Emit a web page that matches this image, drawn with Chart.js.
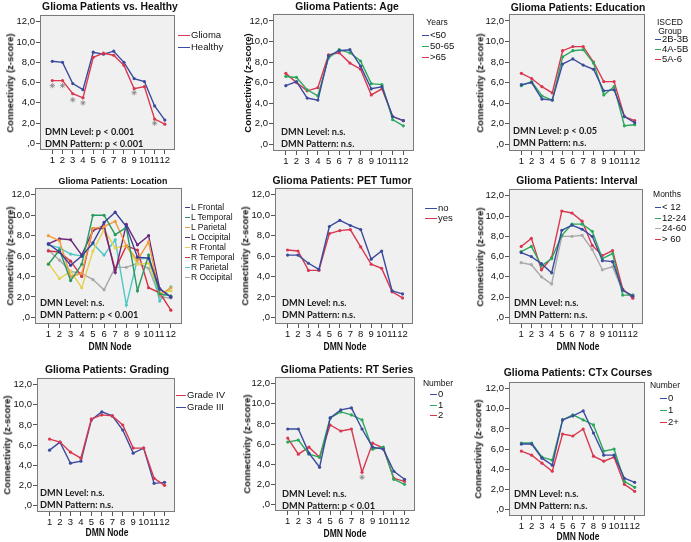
<!DOCTYPE html>
<html>
<head>
<meta charset="utf-8">
<script src="https://cdn.jsdelivr.net/npm/chart.js@4.4.1/dist/chart.umd.min.js"></script>
<style>
  body { margin: 0; background: #fff; }
  #wrap { position: relative; width: 691px; height: 542px; overflow: hidden; font-family: Arial, "Liberation Sans", sans-serif; color: #111; }
  #wrap canvas { position: absolute; }
  .txt { position: absolute; white-space: nowrap; line-height: 1; }
  .leg-line { position: absolute; height: 0; border-top: 1.4px solid; }
</style>
</head>
<body>
<div id="wrap"></div>
<script>
// DMN nodes and y ticks
const nodes = [1, 2, 3, 4, 5, 6, 7, 8, 9, 10, 11, 12];
const yTickValues = [0, 2, 4, 6, 8, 10, 12];
const yTickLabels = [",0", "2,0", "4,0", "6,0", "8,0", "10,0", "12,0"];

// Glioma Patients vs. Healthy
const glioma = [6.2, 6.2, 4.9, 4.5, 8.5, 8.9, 8.7, 7.7, 5.4, 5.6, 2.4, 1.9];
const healthy = [8.1, 8.0, 5.9, 5.3, 9.0, 8.8, 9.1, 8.0, 6.4, 6.1, 3.7, 2.3];
const healthySigNodes = [1, 2, 3, 4, 9, 11];
const healthySigMarks = [5.7, 5.7, 4.3, 4.0, 5.0, 2.0];

// Age
const ageUnder50 = [5.7, 6.1, 4.5, 4.3, 8.6, 9.1, 9.2, 7.6, 5.4, 5.6, 2.7, 2.3];
const age50to65 = [6.6, 6.5, 5.3, 4.7, 8.4, 9.2, 8.9, 8.1, 5.9, 5.8, 2.4, 1.8];
const ageOver65 = [6.9, 6.0, 5.2, 5.5, 8.7, 8.9, 7.9, 7.3, 4.8, 5.4, 2.7, 2.3];

// Education
const edu2B3B = [5.8, 6.0, 4.4, 4.3, 7.8, 8.3, 7.7, 7.3, 5.2, 5.3, 2.7, 2.1];
const edu4A5B = [5.7, 6.1, 4.7, 4.3, 8.5, 9.1, 9.2, 7.9, 4.8, 5.6, 1.8, 1.9];
const edu5A6 = [6.9, 6.4, 5.6, 5.0, 9.1, 9.5, 9.5, 8.0, 6.1, 6.1, 2.7, 2.3];

// Location
const locLFrontal = [7.2, 6.4, 5.1, 6.0, 7.3, 9.3, 10.3, 8.9, 5.9, 5.8, 2.8, 2.0];
const locLTemporal = [5.2, 6.6, 3.6, 5.2, 10.0, 10.0, 8.1, 8.8, 2.6, 6.1, 2.3, 2.1];
const locLParietal = [8.0, 7.5, 4.0, 4.3, 8.7, 8.9, 9.4, 7.0, 5.6, 7.4, 2.2, 2.9];
const locLOccipital = [7.2, 7.7, 7.6, 6.1, 8.5, 9.0, 4.4, 9.1, 7.1, 8.0, 2.8, 2.0];
const locRFrontal = [5.3, 3.8, 4.5, 2.9, 6.5, 8.6, 6.8, 7.0, 5.2, 5.3, 2.4, 2.6];
const locRTemporal = [6.5, 6.4, 5.5, 4.0, 8.7, 8.7, 4.7, 7.0, 6.6, 2.9, 2.4, 0.7];
const locRParietal = [7.1, 6.8, 6.2, 6.0, 7.2, 6.1, 7.6, 1.2, 5.7, 5.8, 1.6, 3.0];
const locROccipital = [6.6, 5.6, 4.5, 4.3, 3.7, 2.7, 4.9, 4.9, 5.3, 4.8, 2.0, 1.9];

// PET Tumor
const petNo = [6.1, 6.1, 5.3, 4.7, 8.9, 9.5, 9.0, 8.6, 5.7, 6.5, 2.6, 2.3];
const petYes = [6.6, 6.5, 4.6, 4.6, 8.2, 8.5, 8.6, 6.9, 5.2, 4.8, 2.5, 1.9];

// Interval (months)
const intUnder12 = [6.4, 6.0, 5.3, 4.4, 8.6, 9.1, 8.7, 8.0, 5.6, 5.5, 2.7, 2.1];
const int12to24 = [6.5, 7.0, 5.1, 5.8, 8.1, 9.2, 9.2, 8.5, 5.8, 6.3, 2.2, 2.2];
const int24to60 = [5.4, 5.2, 4.0, 3.3, 8.0, 8.0, 8.1, 6.7, 4.7, 5.0, 2.6, 2.2];
const intOver60 = [7.0, 7.8, 4.7, 5.9, 10.5, 10.3, 9.5, 7.1, 6.1, 6.6, 2.8, 1.9];

// Grading
const gradeIV = [6.6, 6.3, 5.3, 4.7, 8.6, 9.0, 8.9, 8.0, 5.7, 5.7, 2.7, 2.0];
const gradeIII = [5.5, 6.3, 4.2, 4.4, 8.5, 9.3, 8.9, 7.5, 5.2, 5.7, 2.2, 2.3];

// RT series
const rt0 = [7.5, 7.5, 5.1, 3.7, 8.6, 9.4, 9.6, 7.5, 5.7, 5.5, 3.3, 2.5];
const rt1 = [6.2, 6.4, 5.0, 4.7, 8.6, 9.2, 8.9, 8.4, 5.5, 5.7, 2.5, 2.0];
const rt2 = [6.6, 5.0, 5.7, 4.7, 7.9, 7.3, 7.5, 3.2, 6.1, 5.6, 2.6, 2.3];
const rtSigNodes = [8];
const rtSigMarks = [2.7];

// CTx courses
const ctx0 = [6.5, 6.5, 5.1, 4.4, 8.9, 9.3, 9.8, 7.6, 5.4, 5.4, 3.1, 2.7];
const ctx1 = [6.6, 6.6, 5.2, 4.9, 8.9, 9.4, 8.9, 8.4, 5.8, 6.0, 2.8, 2.2];
const ctx2plus = [5.8, 5.4, 4.6, 3.8, 7.5, 7.3, 8.0, 5.3, 4.8, 5.2, 2.5, 1.8];

const RED = "#d9374f";
const BLUE = "#3b4b9d";
const GREEN = "#2aa95c";
const GRAY = "#a9a9a9";
const STAR = "#8a8a8a";

const wrap = document.getElementById("wrap");

function addText(text, x, y, o) {
  const d = document.createElement("div");
  d.className = "txt";
  d.textContent = text;
  d.style.left = x + "px";
  d.style.top = y + "px";
  d.style.fontSize = (o.size || 10) + "px";
  d.style.fontWeight = o.bold ? "bold" : "normal";
  if (o.family) d.style.fontFamily = o.family;
  if (o.color) d.style.color = o.color;
  const sx = o.sx || 1;
  if (o.rotate) {
    d.style.transform = `translate(-50%, -50%) rotate(-90deg) scaleX(${sx})`;
  } else if (o.align === "left") {
    d.style.transform = `translate(0, -50%) scaleX(${sx})`;
    d.style.transformOrigin = "left center";
  } else {
    d.style.transform = `translate(-50%, -50%) scaleX(${sx})`;
  }
  wrap.appendChild(d);
}

function addLegend(p) {
  const lg = p.legend;
  (lg.title || []).forEach((line, i) => {
    addText(line, lg.titleX, lg.titleY + i * 9, { size: 8.5 });
  });
  p.series.forEach((s, i) => {
    const y = lg.y0 + i * lg.dy;
    const ln = document.createElement("div");
    ln.className = "leg-line";
    ln.style.left = lg.x0 + "px";
    ln.style.top = y + "px";
    ln.style.width = lg.len + "px";
    ln.style.borderTopColor = s.color;
    wrap.appendChild(ln);
    addText(s.label, lg.x0 + lg.len + 1, y, { size: lg.size || 9.5, align: "left" });
  });
}

// grey plot box with frame
const boxPlugin = {
  id: "box",
  beforeDraw(chart) {
    const { ctx, chartArea: a } = chart;
    ctx.save();
    ctx.fillStyle = "#f0f0f0";
    ctx.fillRect(a.left, a.top, a.right - a.left, a.bottom - a.top);
    ctx.restore();
  },
  afterDraw(chart) {
    const { ctx, chartArea: a } = chart;
    ctx.save();
    ctx.strokeStyle = "#7a7a7a";
    ctx.lineWidth = 1;
    ctx.strokeRect(Math.round(a.left) + 0.5, Math.round(a.top) + 0.5, Math.round(a.right - a.left) - 1, Math.round(a.bottom - a.top) - 1);
    ctx.restore();
  },
};

function chartConfig(p) {
  const datasets = p.series.map((s) => ({
    type: "line",
    label: s.label,
    data: nodes.map((n, i) => ({ x: n, y: s.data[i] })),
    borderColor: s.color,
    backgroundColor: s.color,
    borderWidth: 1.4,
    pointRadius: 1.6,
    pointBorderWidth: 0,
    tension: 0,
  }));
  if (p.stars) {
    datasets.push({
      type: "scatter",
      label: "sig",
      data: p.stars.nodes.map((n, i) => ({ x: n, y: p.stars.marks[i] })),
      pointStyle: "star",
      pointRadius: 2.6,
      borderColor: STAR,
      borderWidth: 0.9,
    });
  }
  const tickFont = { family: "Arial, 'Liberation Sans'", size: 9.5 };
  return {
    type: "line",
    data: { datasets },
    plugins: [boxPlugin],
    options: {
      responsive: false,
      maintainAspectRatio: false,
      animation: false,
      events: [],
      layout: { padding: 0 },
      plugins: { legend: { display: false }, tooltip: { enabled: false } },
      scales: {
        x: {
          type: "linear",
          min: -0.2,
          max: 13,
          afterBuildTicks: (s) => { s.ticks = nodes.map((v) => ({ value: v })); },
          ticks: { autoSkip: false, maxRotation: 0, color: "#111", font: tickFont, padding: 1 },
          grid: { drawOnChartArea: false, drawTicks: true, tickLength: 4, color: "#555" },
          border: { display: false },
          afterFit: (s) => { s.height = 20; },
        },
        y: {
          type: "linear",
          min: -0.65,
          max: 12.7,
          afterBuildTicks: (s) => { s.ticks = yTickValues.map((v) => ({ value: v })); },
          ticks: {
            color: "#111",
            font: tickFont,
            padding: 1,
            callback: (v, i) => yTickLabels[i],
          },
          grid: { drawOnChartArea: false, tickLength: 4, color: "#555" },
          border: { display: false },
          afterFit: (s) => { s.width = 30; },
        },
      },
    },
  };
}

function makeCanvas(left, top, w, h) {
  const cv = document.createElement("canvas");
  cv.width = w;
  cv.height = h;
  cv.style.left = left + "px";
  cv.style.top = top + "px";
  wrap.appendChild(cv);
  return cv;
}

function makePanel(p) {
  const [l, t, r, b] = p.box;
  // first pass, then shift / resize so the chart area sits on the box
  let left = l - 34, top = t - 8, w = r - l + 44, h = b - t + 34;
  let cv = makeCanvas(left, top, w, h);
  let chart = new Chart(cv, chartConfig(p));
  const a = chart.chartArea;
  const nl = Math.round(left + l - (left + a.left));
  const nt = Math.round(top + t - (top + a.top));
  const nw = Math.round(w + (r - l) - (a.right - a.left));
  const nh = Math.round(h + (b - t) - (a.bottom - a.top));
  chart.destroy();
  cv.remove();
  cv = makeCanvas(nl, nt, nw, nh);
  chart = new Chart(cv, chartConfig(p));

  addText(p.title, p.titleAt[0], p.titleAt[1], { size: p.titleSize || 11.5, bold: true, sx: 0.9 });
  addText("Connectivity (z-score)", p.yTitleX, (t + b) / 2, { size: 9.5, bold: true, rotate: true });
  if (p.xTitleAt) addText("DMN Node", p.xTitleAt[0], p.xTitleAt[1], { size: 10, bold: true, sx: 0.85 });
  p.stats.forEach((s, i) => {
    addText(s, p.statsAt[0], p.statsAt[1] + i * 12, { size: 10, bold: true, align: "left", family: "Lato, 'Open Sans', sans-serif", color: "#1a1a1a", sx: 0.92 });
  });
  addLegend(p);
}

const panels = [
  {
    title: "Glioma Patients vs. Healthy", titleAt: [110, 7], box: [40, 15, 175, 150], yTitleX: 10,
    series: [{ label: "Glioma", data: glioma, color: RED }, { label: "Healthy", data: healthy, color: BLUE }],
    stars: { nodes: healthySigNodes, marks: healthySigMarks },
    legend: { x0: 178, len: 12, y0: 35, dy: 12 },
    stats: ["DMN Level: p < 0.001", "DMN Pattern: p < 0.001"], statsAt: [45, 131],
  },
  {
    title: "Glioma Patients: Age", titleAt: [347, 7], box: [273, 14, 414, 151], yTitleX: 248,
    series: [{ label: "<50", data: ageUnder50, color: BLUE }, { label: "50-65", data: age50to65, color: GREEN }, { label: ">65", data: ageOver65, color: RED }],
    legend: { title: ["Years"], titleX: 437, titleY: 22, x0: 422, len: 7, y0: 35, dy: 11 },
    stats: ["DMN Level: n.s.", "DMN Pattern: n.s."], statsAt: [281, 131],
  },
  {
    title: "Glioma Patients: Education", titleAt: [578, 8], box: [509, 14, 645, 151], yTitleX: 480,
    series: [{ label: "2B-3B", data: edu2B3B, color: BLUE }, { label: "4A-5B", data: edu4A5B, color: GREEN }, { label: "5A-6", data: edu5A6, color: RED }],
    legend: { title: ["ISCED", "Group"], titleX: 670, titleY: 22, x0: 655, len: 6, y0: 39, dy: 10 },
    stats: ["DMN Level: p < 0.05", "DMN Pattern: n.s."], statsAt: [513, 130],
  },
  {
    title: "Glioma Patients: Location", titleAt: [113, 181], titleSize: 9.8, box: [35, 188, 182, 324], yTitleX: 10, xTitleAt: [110, 347],
    series: [
      { label: "L Frontal", data: locLFrontal, color: "#3b3f98" },
      { label: "L Temporal", data: locLTemporal, color: "#2a9a62" },
      { label: "L Parietal", data: locLParietal, color: "#f29b3c" },
      { label: "L Occipital", data: locLOccipital, color: "#6c2a7c" },
      { label: "R Frontal", data: locRFrontal, color: "#e2d24e" },
      { label: "R Temporal", data: locRTemporal, color: "#d23242" },
      { label: "R Parietal", data: locRParietal, color: "#4fc6c6" },
      { label: "R Occipital", data: locROccipital, color: "#a8a8a8" },
    ],
    legend: { x0: 185, len: 5, y0: 207, dy: 10, size: 8.5 },
    stats: ["DMN Level: n.s.", "DMN Pattern: p < 0.001"], statsAt: [40, 302],
  },
  {
    title: "Glioma Patients: PET Tumor", titleAt: [342, 181], box: [275, 188, 413, 324], yTitleX: 245, xTitleAt: [345, 347],
    series: [{ label: "no", data: petNo, color: BLUE }, { label: "yes", data: petYes, color: RED }],
    legend: { x0: 425, len: 12, y0: 208, dy: 10 },
    stats: ["DMN Level: n.s.", "DMN Pattern: n.s."], statsAt: [282, 302],
  },
  {
    title: "Glioma Patients: Interval", titleAt: [577, 181], box: [509, 189, 643, 324], yTitleX: 480, xTitleAt: [578, 347],
    series: [{ label: "< 12", data: intUnder12, color: BLUE }, { label: "12-24", data: int12to24, color: GREEN }, { label: "24-60", data: int24to60, color: GRAY }, { label: "> 60", data: intOver60, color: RED }],
    legend: { title: ["Months"], titleX: 667, titleY: 194, x0: 655, len: 6, y0: 207, dy: 10.5 },
    stats: ["DMN Level: n.s.", "DMN Pattern: n.s."], statsAt: [514, 302],
  },
  {
    title: "Glioma Patients: Grading", titleAt: [107, 370], box: [37, 378, 175, 512], yTitleX: 7, xTitleAt: [107, 533],
    series: [{ label: "Grade IV", data: gradeIV, color: RED }, { label: "Grade III", data: gradeIII, color: BLUE }],
    legend: { x0: 176, len: 10, y0: 395, dy: 12 },
    stats: ["DMN Level: n.s.", "DMN Pattern: n.s."], statsAt: [40, 492],
  },
  {
    title: "Glioma Patients: RT Series", titleAt: [347, 370], box: [275, 377, 415, 511], yTitleX: 247, xTitleAt: [345, 534],
    series: [{ label: "0", data: rt0, color: BLUE }, { label: "1", data: rt1, color: GREEN }, { label: "2", data: rt2, color: RED }],
    stars: { nodes: rtSigNodes, marks: rtSigMarks },
    legend: { title: ["Number"], titleX: 438, titleY: 383, x0: 430, len: 7, y0: 394, dy: 10.5 },
    stats: ["DMN Level: n.s.", "DMN Pattern: p < 0.01"], statsAt: [282, 493],
  },
  {
    title: "Glioma Patients: CTx Courses", titleAt: [578, 373], box: [509, 382, 645, 516], yTitleX: 478, xTitleAt: [578, 537],
    series: [{ label: "0", data: ctx0, color: BLUE }, { label: "1", data: ctx1, color: GREEN }, { label: "2+", data: ctx2plus, color: RED }],
    legend: { title: ["Number"], titleX: 665, titleY: 385, x0: 660, len: 7, y0: 398, dy: 12 },
    stats: ["DMN Level: n.s.", "DMN Pattern: n.s."], statsAt: [514, 493],
  },
];

panels.forEach(makePanel);
</script>
</body>
</html>
